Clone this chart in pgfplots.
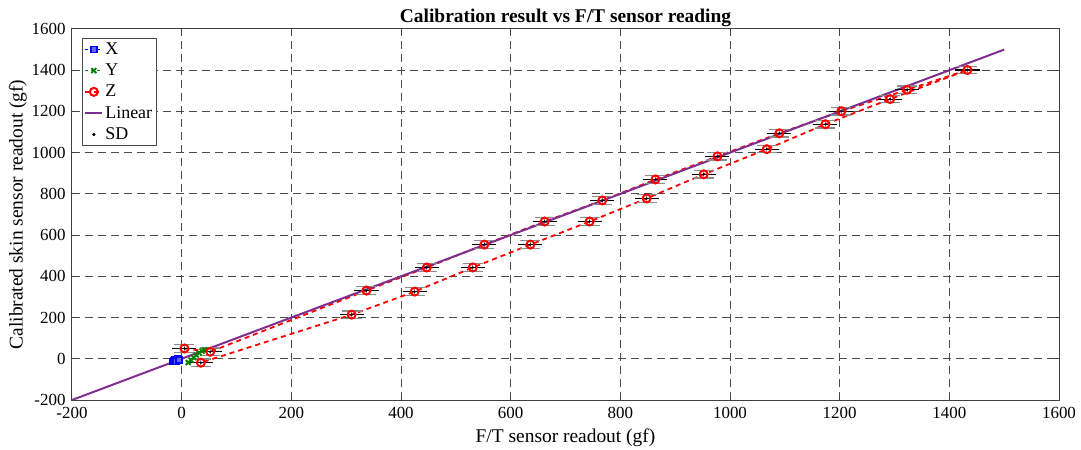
\documentclass[border=0pt]{standalone}
\usepackage{pgfplots}
\pgfplotsset{compat=1.18}
\usetikzlibrary{calc}
\usepackage{fontspec}
\setmainfont{Liberation Serif}
\definecolor{zred}{RGB}{255,0,0}
\definecolor{lingray}{RGB}{140,140,140}
\definecolor{linpurple}{RGB}{126,47,142}
\begin{document}
\begin{tikzpicture}[x=1bp,y=1bp]
\begin{axis}[
  name=ax,
  scale only axis,
  width=987bp, height=371bp,
  xmin=-200, xmax=1600, ymin=-200, ymax=1600,
  xtick={-200,0,...,1600}, ytick={-200,0,...,1600},
  tick align=inside, tick pos=both,
  major tick length=5bp,
  grid=major,
  major grid style={dash pattern=on 8bp off 5bp, black!70, line width=1bp},
  axis line style={black!75, line width=1bp},
  tick style={black!75, line width=1bp},
  /pgf/number format/assume math mode=true,
  /pgf/number format/1000 sep={},
  ticklabel style={font=\fontsize{17}{19}\selectfont},
  xticklabel style={yshift=-4bp},
  yticklabel style={xshift=-3bp},
  label style={font=\fontsize{19.5}{21}\selectfont},
  title style={font=\fontsize{19.5}{21}\selectfont\bfseries, yshift=-7bp},
  title={Calibration result vs F/T sensor reading},
  xlabel={F/T sensor readout (gf)},
  ylabel={Calibrated skin sensor readout (gf)},
  xlabel style={yshift=-3bp},
  ylabel style={yshift=-2bp},
  legend style={at={(0.01,0.975)}, anchor=north west, font=\fontsize{18}{20}\selectfont,
    draw=black!70, line width=1bp, row sep=4bp, inner sep=2bp, legend cell align=left},
]
% X
\addplot[blue, dashed, line width=1.5bp, mark=square*, mark size=3bp, mark options={solid, line width=1.5bp, fill=blue!60}]
 coordinates {(-16,-14) (-14,-10) (-12,-7) (-10,-4) (-8,-1) (-6,2) (-9,-12) (-5,-6)};
\addlegendentry{X}
% Y
\addplot[black!50!green, dashed, line width=1.5bp, mark=x, mark size=3.5bp, mark options={solid, line width=1.8bp}]
 coordinates {(12,-18) (17,-6) (22,6) (27,18) (32,28) (37,37) (42,43)};
\addlegendentry{Y}
% Z
\addplot[zred, line width=1.8bp, dash pattern=on 5bp off 4bp, mark=o, mark size=4bp, mark options={solid, line width=2bp}]
 coordinates {(5,50) (52,34) (337,331) (447,443) (552,554) (662,666) (767,768) (864,870) (977,982)
  (1090,1094) (1203,1201) (1323,1305) (1433,1401)
  (1292,1260) (1174,1138) (1067,1017) (952,895) (848,778) (744,666) (636,554) (531,443)
  (425,326) (310,214) (35,-19)};
\addlegendentry{Z}
% Linear
\addplot[linpurple, line width=2bp] coordinates {(-200,-200) (1500,1500)};
\addlegendentry{Linear}
% gray caps (vertical SD)
\addplot[forget plot, draw=none, mark=none,
  error bars/.cd, y dir=both, y explicit,
  error bar style={lingray, line width=1bp},
  error mark options={lingray, line width=1.2bp, mark size=10bp, rotate=90}]
 coordinates {(5,50)+-(0,18) (52,34)+-(0,18) (35,-19)+-(0,18) (337,331)+-(0,18) (447,443)+-(0,18) (552,554)+-(0,18) (662,666)+-(0,18) (767,768)+-(0,18) (864,870)+-(0,18) (977,982)+-(0,18)
  (1090,1094)+-(0,18) (1203,1201)+-(0,18) (1323,1305)+-(0,18) (1433,1401)+-(0,18)
  (1292,1260)+-(0,18) (1174,1138)+-(0,18) (1067,1017)+-(0,18) (952,895)+-(0,18) (848,778)+-(0,18) (744,666)+-(0,18) (636,554)+-(0,18) (531,443)+-(0,18)
  (425,326)+-(0,18) (310,214)+-(0,18)};
% SD
\addplot[only marks, mark=*, mark size=1bp, black,
  error bars/.cd, x dir=both, x explicit,
  error bar style={black, line width=1.1bp},
  error mark options={black, mark size=0bp}]
 coordinates {(5,50)+-(22,0) (52,34)+-(22,0) (35,-19)+-(22,0) (337,331)+-(22,0) (447,443)+-(22,0) (552,554)+-(22,0) (662,666)+-(22,0) (767,768)+-(22,0) (864,870)+-(22,0) (977,982)+-(22,0)
  (1090,1094)+-(22,0) (1203,1201)+-(22,0) (1323,1305)+-(22,0) (1433,1401)+-(22,0)
  (1292,1260)+-(22,0) (1174,1138)+-(22,0) (1067,1017)+-(22,0) (952,895)+-(22,0) (848,778)+-(22,0) (744,666)+-(22,0) (636,554)+-(22,0) (531,443)+-(22,0)
  (425,326)+-(22,0) (310,214)+-(22,0)};
\addlegendentry{SD}
\end{axis}
\path ($(ax.south west)+(-72bp,-50bp)$) rectangle ($(ax.north east)+(22bp,29bp)$);
\end{tikzpicture}
\end{document}
